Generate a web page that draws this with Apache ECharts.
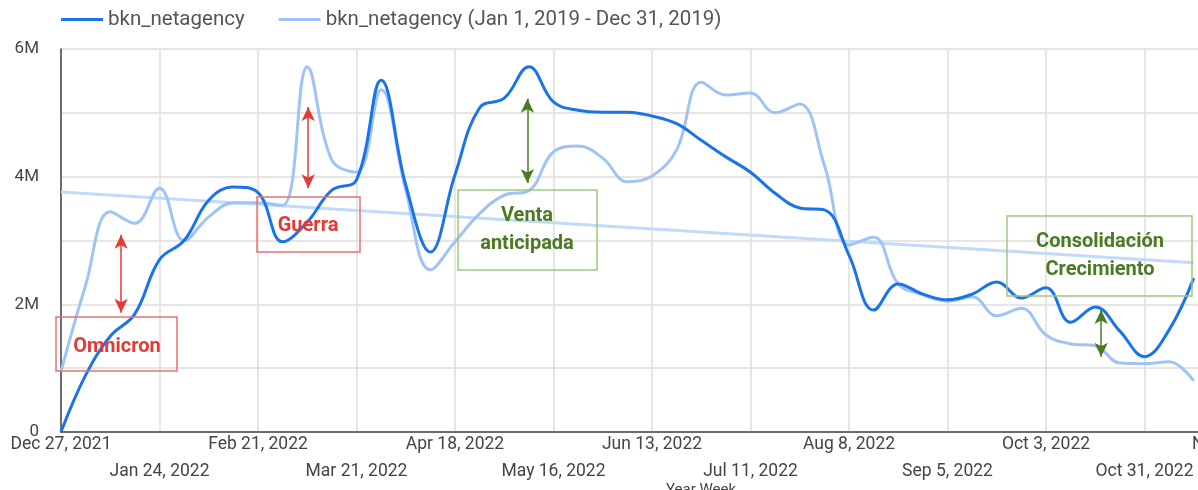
<!DOCTYPE html>
<html>
<head>
<meta charset="utf-8">
<script src="https://cdn.jsdelivr.net/npm/echarts@6/dist/echarts.min.js"></script>
<style>
  html, body { margin: 0; padding: 0; background: #fff; }
  #chart { width: 1198px; height: 490px; }
</style>
</head>
<body>
<div id="chart"></div>
<script>
// semanas desde Dec 27, 2021 (indice de semana)
var tickLabels = ['Dec 27, 2021', 'Jan 24, 2022', 'Feb 21, 2022', 'Mar 21, 2022', 'Apr 18, 2022',
    'May 16, 2022', 'Jun 13, 2022', 'Jul 11, 2022', 'Aug 8, 2022', 'Sep 5, 2022',
    'Oct 3, 2022', 'Oct 31, 2022', 'Nov 28, 2022'];

// bkn_netagency 2022 (millones)
var netagency2022 = [0, 0.89, 1.5, 1.85, 2.7, 3.0, 3.63, 3.84, 3.75, 2.98,
    3.29, 3.79, 3.95, 5.51, 3.87, 2.82, 4.03, 5.08, 5.23, 5.72,
    5.17, 5.04, 5.01, 5.01, 4.95, 4.83, 4.57, 4.31, 4.07, 3.74,
    3.51, 3.48, 2.77, 1.91, 2.32, 2.16, 2.07, 2.16, 2.35, 2.1,
    2.26, 1.72, 1.96, 1.58, 1.18, 1.6, 2.41];

// bkn_netagency (Jan 1, 2019 - Dec 31, 2019)
var netagency2019 = [0.95, 2.3, 3.45, 3.27, 3.82, 3.0, 3.37, 3.59, 3.59, 3.55,
    5.72, 4.26, 4.07, 5.36, 3.79, 2.54, 2.98, 3.42, 3.71, 3.78,
    4.39, 4.48, 4.29, 3.92, 4.01, 4.42, 5.48, 5.28, 5.31, 5.0,
    5.14, 4.18, 2.93, 3.05, 2.32, 2.15, 2.05, 2.12, 1.82, 1.94,
    1.52, 1.38, 1.35, 1.08, 1.07, 1.1, 0.8];

// linea de tendencia (inicio / fin)
var trendLine = [[0, 3.76], [46, 2.65]];

var darkBlue = '#1a73e8';
var lightBlue = '#a0c3f7';
var trendBlue = '#c2dafa';
var red = '#e53935';
var green = '#4a7a22';

function toSeries(arr) {
    var out = [];
    for (var i = 0; i < arr.length; i++) {
        out.push([i, arr[i] * 1e6]);
    }
    return out;
}

function arrow(x, y1, y2, color) {
    return [
        {coord: [x, y1 * 1e6], lineStyle: {color: color, width: 1.5, type: 'solid'}},
        {coord: [x, y2 * 1e6]}
    ];
}

// dos ejes x: fila de arriba (etiquetas pares) y fila de abajo (impares)
function weekAxis(row) {
    return {
        type: 'value',
        min: 0,
        max: 48,
        interval: 4,
        position: 'bottom',
        axisLine: {show: row === 0, lineStyle: {color: '#444', width: 1.5}},
        axisTick: {show: false},
        splitLine: {show: row === 0, lineStyle: {color: '#dedede', width: 1.5}},
        axisLabel: {
            color: '#444',
            fontSize: 17.5,
            margin: row === 0 ? 4 : 31,
            showMinLabel: row === 0,
            showMaxLabel: row === 0,
            formatter: function (v) {
                var k = Math.round(v / 4);
                return k % 2 === row ? tickLabels[k] : '';
            }
        }
    };
}

var chart = echarts.init(document.getElementById('chart'));

var option = {
    animation: false,
    textStyle: {fontFamily: 'Roboto'},
    legend: {
        left: 56,
        top: 4,
        itemWidth: 42,
        itemHeight: 3,
        itemGap: 34,
        icon: 'rect',
        data: ['bkn_netagency', 'bkn_netagency (Jan 1, 2019 - Dec 31, 2019)'],
        textStyle: {fontSize: 20.5, color: '#555', fontFamily: 'Roboto'}
    },
    grid: {
        left: 61,
        top: 49,
        width: 1182,
        height: 383,
        outerBoundsMode: 'none',
        containLabel: false
    },
    xAxis: [weekAxis(0), weekAxis(1)],
    yAxis: {
        type: 'value',
        min: 0,
        max: 6e6,
        interval: 1e6,
        axisLine: {show: true, lineStyle: {color: '#444', width: 1.5}},
        axisTick: {show: false},
        splitLine: {show: true, lineStyle: {color: '#dedede', width: 1.5}},
        axisLabel: {
            color: '#444',
            fontSize: 17,
            margin: 22,
            formatter: function (v) {
                if (v === 0) return '0';
                var m = Math.round(v / 1e6);
                return m % 2 === 0 ? m + 'M' : '';
            }
        }
    },
    series: [
        {
            name: 'bkn_netagency (Jan 1, 2019 - Dec 31, 2019)',
            type: 'line',
            smooth: 0.4,
            symbol: 'none',
            color: lightBlue,
            lineStyle: {color: lightBlue, width: 3},
            data: toSeries(netagency2019),
            z: 2
        },
        {
            name: 'trend',
            type: 'line',
            symbol: 'none',
            lineStyle: {color: trendBlue, width: 3},
            data: trendLine.map(function (p) { return [p[0], p[1] * 1e6]; }),
            z: 1
        },
        {
            name: 'bkn_netagency',
            type: 'line',
            smooth: 0.4,
            symbol: 'none',
            color: darkBlue,
            lineStyle: {color: darkBlue, width: 3},
            data: toSeries(netagency2022),
            z: 3,
            markLine: {
                silent: true,
                symbol: ['arrow', 'arrow'],
                symbolSize: [10, 14],
                label: {show: false},
                data: [
                    arrow(2.44, 1.87, 3.09, red),
                    arrow(10.04, 3.82, 5.09, red),
                    arrow(18.94, 3.9, 5.22, green),
                    arrow(42.24, 1.18, 1.91, green)
                ]
            }
        }
    ],
    graphic: [
        {type: 'rect', shape: {x: 56, y: 317, width: 121, height: 54}, style: {fill: 'none', stroke: '#e57373', lineWidth: 1.5}, z: 10},
        {type: 'text', x: 117, y: 347, style: {text: 'Omnicron', fill: red, font: 'bold 20px Roboto', textAlign: 'center', textVerticalAlign: 'middle'}, z: 10},
        {type: 'rect', shape: {x: 257, y: 197, width: 103, height: 55}, style: {fill: 'none', stroke: '#e57373', lineWidth: 1.5}, z: 10},
        {type: 'text', x: 308, y: 226, style: {text: 'Guerra', fill: red, font: 'bold 20px Roboto', textAlign: 'center', textVerticalAlign: 'middle'}, z: 10},
        {type: 'rect', shape: {x: 458, y: 190, width: 139, height: 80}, style: {fill: 'none', stroke: '#9ccc7a', lineWidth: 1.5}, z: 10},
        {type: 'text', x: 527, y: 230, style: {text: 'Venta\nanticipada', fill: green, font: 'bold 20px Roboto', lineHeight: 28, textAlign: 'center', textVerticalAlign: 'middle'}, z: 10},
        {type: 'rect', shape: {x: 1007, y: 216, width: 185, height: 80}, style: {fill: 'none', stroke: '#9ccc7a', lineWidth: 1.5}, z: 10},
        {type: 'text', x: 1100, y: 256, style: {text: 'Consolidación\nCrecimiento', fill: green, font: 'bold 20px Roboto', lineHeight: 28, textAlign: 'center', textVerticalAlign: 'middle'}, z: 10},
        {type: 'text', x: 701, y: 483, style: {text: 'Year Week', fill: '#444', font: '15px Roboto', textAlign: 'center'}, z: 10}
    ]
};

chart.setOption(option);
</script>
</body>
</html>
